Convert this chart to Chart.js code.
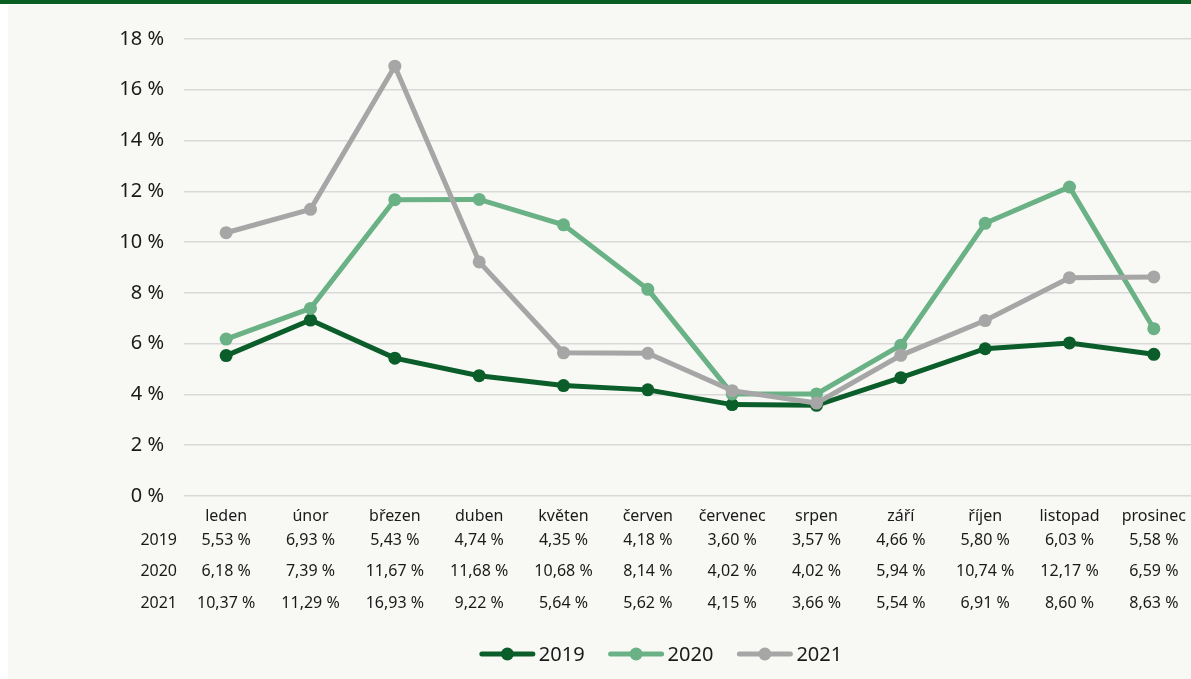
<!DOCTYPE html>
<html>
<head>
<meta charset="utf-8">
<script src="https://cdn.jsdelivr.net/npm/chart.js@4"></script>
<style>
  html, body { margin: 0; padding: 0; background: #ffffff; overflow: hidden; width: 1191px; height: 679px; }
  #topbar { position: absolute; left: 0; top: 0; width: 1191px; height: 4px; background: #0b5e22; }
  #panel { position: absolute; left: 8px; top: 5px; width: 1183px; height: 674px; background: #f8f9f5; overflow: hidden; }
  #chart { position: absolute; left: 0; top: 0; }
</style>
</head>
<body>
<div id="topbar"></div>
<div id="panel"><canvas id="chart" width="1306" height="674"></canvas></div>
<script>
const months = ['leden', 'únor', 'březen', 'duben', 'květen', 'červen', 'červenec', 'srpen', 'září', 'říjen', 'listopad', 'prosinec'];
const years = ['2019', '2020', '2021'];
const values2019 = [5.53, 6.93, 5.43, 4.74, 4.35, 4.18, 3.60, 3.57, 4.66, 5.80, 6.03, 5.58];
const values2020 = [6.18, 7.39, 11.67, 11.68, 10.68, 8.14, 4.02, 4.02, 5.94, 10.74, 12.17, 6.59];
const values2021 = [10.37, 11.29, 16.93, 9.22, 5.64, 5.62, 4.15, 3.66, 5.54, 6.91, 8.60, 8.63];
const seriesColors = ['#0b5e2a', '#6ab185', '#a6a6a6'];

const fontFamily = '"Noto Sans", "DejaVu Sans", sans-serif';
const fmt = v => v.toFixed(2).replace('.', ',') + ' %';

// data table under the x axis + custom legend (line with marker)
const tablePlugin = {
    id: 'dataTable',
    afterDraw(chart) {
        const ctx = chart.ctx;
        const x = chart.scales.x;
        const area = chart.chartArea;
        ctx.save();
        ctx.font = '16px ' + fontFamily;
        ctx.fillStyle = '#1a1a1a';
        ctx.textBaseline = 'middle';
        chart.data.datasets.forEach((ds, i) => {
            const y = area.bottom + 44 + i * 31.5;
            ctx.textAlign = 'right';
            ctx.fillText(ds.label, area.left - 7, y);
            ctx.textAlign = 'center';
            ds.data.forEach((v, j) => ctx.fillText(fmt(v), x.getPixelForValue(j), y));
        });

        // legend
        ctx.font = '20px ' + fontFamily;
        const lineLen = 55, gapText = 4, gapItem = 24;
        const widths = chart.data.datasets.map(ds => lineLen + gapText + ctx.measureText(ds.label).width);
        const total = widths.reduce((a, b) => a + b, 0) + gapItem * (widths.length - 1);
        let lx = 653 - total / 2;
        const ly = 649;
        chart.data.datasets.forEach((ds, i) => {
            ctx.strokeStyle = ds.borderColor;
            ctx.lineWidth = 5;
            ctx.lineCap = 'round';
            ctx.beginPath();
            ctx.moveTo(lx + 2, ly);
            ctx.lineTo(lx + lineLen - 2, ly);
            ctx.stroke();
            ctx.fillStyle = ds.borderColor;
            ctx.beginPath();
            ctx.arc(lx + lineLen / 2, ly, 6.5, 0, Math.PI * 2);
            ctx.fill();
            ctx.fillStyle = '#1a1a1a';
            ctx.textAlign = 'left';
            ctx.fillText(ds.label, lx + lineLen + gapText, ly + 1);
            lx += widths[i] + gapItem;
        });
        ctx.restore();
    }
};

function makeDataset(label, data, color, order) {
    return {
        label: label,
        data: data,
        borderColor: color,
        backgroundColor: color,
        borderWidth: 5,
        pointRadius: 6.5,
        pointHoverRadius: 6.5,
        pointBorderWidth: 0,
        tension: 0,
        order: order
    };
}

new Chart(document.getElementById('chart').getContext('2d'), {
    type: 'line',
    data: {
        labels: months,
        datasets: [
            makeDataset(years[0], values2019, seriesColors[0], 2),
            makeDataset(years[1], values2020, seriesColors[1], 1),
            makeDataset(years[2], values2021, seriesColors[2], 0)
        ]
    },
    options: {
        responsive: false,
        animation: false,
        events: [],
        layout: { padding: { top: 34, right: 118, bottom: 43, left: 0 } },
        plugins: {
            legend: { display: false },
            tooltip: { enabled: false }
        },
        scales: {
            x: {
                offset: true,
                grid: { display: false },
                border: { display: false },
                ticks: {
                    color: '#1a1a1a',
                    padding: 3,
                    maxRotation: 0,
                    autoSkip: false,
                    font: { family: fontFamily, size: 16 }
                },
                afterFit: s => { s.height = 140; }
            },
            y: {
                min: 0,
                max: 18,
                border: { display: false },
                grid: { color: '#d9d9d9', lineWidth: 1.5, drawTicks: false },
                ticks: {
                    stepSize: 2,
                    padding: 20,
                    color: '#1a1a1a',
                    font: { family: fontFamily, size: 20 },
                    callback: v => v + ' %'
                },
                afterFit: s => { s.width = 176; }
            }
        }
    },
    plugins: [tablePlugin]
});
</script>
</body>
</html>
